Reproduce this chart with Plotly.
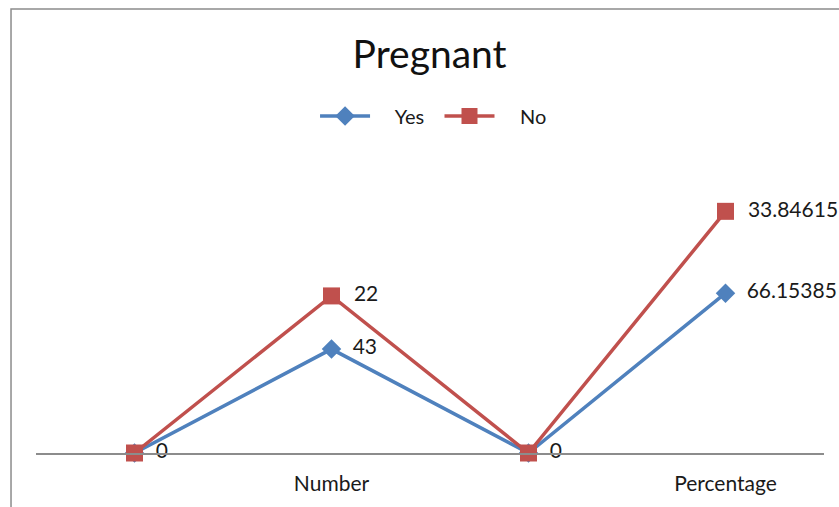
import numpy as np
import plotly.graph_objects as go

# Category positions along the axis; only two carry a label
categories = [0, 1, 2, 3]
tick_labels = ["", "Number", "", "Percentage"]

# Series values (stacked: "No" sits on top of "Yes")
yes_values = [0, 43, 0, 66.15385]
no_values = [0, 22, 0, 33.84615]

yes_arr = np.array(yes_values, dtype=float)
no_arr = np.array(no_values, dtype=float)
no_stacked = yes_arr + no_arr

NB = "\u00a0"


def fmt(v):
    return NB * 2 + ("%.5f" % v).rstrip("0").rstrip(".")


# Where both series meet at the same point, one shared label is enough
no_text = [fmt(v) if s != y else "" for v, s, y in zip(no_values, no_stacked, yes_arr)]
yes_text = [fmt(v) for v in yes_values]

BLUE = "#4F81BD"
RED = "#C0504D"
FONT = "Lato"
LABEL_FONT = dict(family=FONT, size=21, color="#1a1a1a")

fig = go.Figure()
fig.add_trace(go.Scatter(
    x=categories, y=yes_arr, name=NB * 4 + "Yes" + NB * 2,
    mode="lines+markers+text",
    line=dict(color=BLUE, width=3.5),
    marker=dict(symbol="diamond", size=15, color=BLUE),
    text=yes_text, textposition="middle right", textfont=LABEL_FONT,
    cliponaxis=False,
))
fig.add_trace(go.Scatter(
    x=categories, y=no_stacked, name=NB * 4 + "No",
    mode="lines+markers+text",
    line=dict(color=RED, width=3.5),
    marker=dict(symbol="square", size=17, color=RED),
    text=no_text, textposition="middle right", textfont=LABEL_FONT,
    cliponaxis=False,
))

# Outer chart-area border
fig.add_shape(type="rect", xref="paper", yref="paper",
              x0=-0.0317, x1=1.05, y0=-0.25, y1=1.531,
              line=dict(color="#8c8c8c", width=1.5), fillcolor="rgba(0,0,0,0)")

fig.update_layout(
    width=839, height=507,
    margin=dict(l=36, r=15, t=163, b=54),
    paper_bgcolor="white", plot_bgcolor="white",
    font=dict(family=FONT, color="#1a1a1a"),
    title=dict(text="Pregnant", x=0.512, xanchor="center",
               y=1 - 54 / 507, yanchor="middle",
               font=dict(family=FONT, size=39, color="#111111")),
    showlegend=True,
    legend=dict(orientation="h", x=0.5045, xanchor="center",
                y=1.162, yanchor="middle",
                font=dict(family=FONT, size=20, color="#1a1a1a"),
                itemwidth=50, bgcolor="rgba(0,0,0,0)"),
    xaxis=dict(range=[-0.5, 3.5], tickvals=categories, ticktext=tick_labels,
               showgrid=False, zeroline=False, showline=True,
               linecolor="#8c8c8c", linewidth=1.5,
               ticks="outside", ticklen=11, tickcolor="rgba(0,0,0,0)",
               tickfont=dict(family=FONT, size=21, color="#1a1a1a")),
    yaxis=dict(range=[0, 120], visible=False, showgrid=False, zeroline=False),
)

fig.write_html("out.html")
